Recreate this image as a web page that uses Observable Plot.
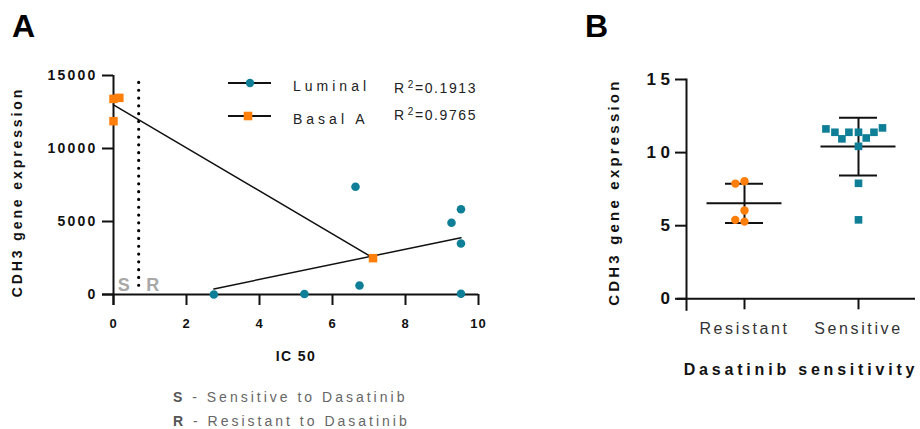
<!DOCTYPE html>
<html>
<head>
<meta charset="utf-8">
<script src="https://cdn.jsdelivr.net/npm/d3@7"></script>
<script src="https://cdn.jsdelivr.net/npm/@observablehq/plot@0.6"></script>
<style>
  html, body { margin: 0; padding: 0; background: #fff; }
  #root { position: relative; width: 920px; height: 429px; overflow: hidden; font-family: "Liberation Sans", Arial, sans-serif; color: #222; }
  .panel { position: absolute; top: 0; }
  #panelA { left: 0; }
  #panelB, #panelB2 { left: 580px; }
  .plabel { position: absolute; font-weight: bold; font-size: 32px; line-height: 32px; color: #000; }
  .leg { position: absolute; font-size: 14px; line-height: 16px; white-space: nowrap; color: #222; }
  .leg sup { font-size: 10px; vertical-align: 0; position: relative; top: -5px; margin-left: 2px; }
  .caption { position: absolute; left: 173px; font-size: 14px; line-height: 12px; letter-spacing: 3px; color: #666; white-space: nowrap; }
  .caption b { color: #555; }
  #panelA g[aria-label="y-axis tick label"] text { font-size: 14px !important; font-weight: bold !important; letter-spacing: 2.2px; }
  #panelA g[aria-label="x-axis tick label"] text { font-size: 13px !important; font-weight: bold !important; letter-spacing: 1px; }
  #panelA g[aria-label="y-axis label"] text { font-size: 14px !important; font-weight: bold !important; letter-spacing: 2.9px; }
  #panelA g[aria-label="y-axis label"] { translate: 0px 7px; }
  #panelA g[aria-label="x-axis label"] text { font-size: 14px !important; font-weight: bold !important; letter-spacing: 1.4px; }
  #panelB g[aria-label="y-axis tick label"] text { font-size: 17px !important; font-weight: bold !important; letter-spacing: 4.5px; }
  #panelB g[aria-label="y-axis label"] text { font-size: 15px !important; font-weight: bold !important; letter-spacing: 3.2px; }
  #panelB g[aria-label="y-axis label"] { translate: 0px 3px; }
  #panelB g[aria-label="x-axis tick label"] text { font-size: 16px !important; font-weight: normal !important; letter-spacing: 2.6px; fill: #333; }
  #panelB g[aria-label="x-axis label"] text { font-size: 16px !important; font-weight: bold !important; letter-spacing: 3.8px; fill: #111; }
</style>
</head>
<body>
<div id="root">
  <div class="plabel" style="left:12px;top:10px;">A</div>
  <div class="plabel" style="left:585px;top:10px;">B</div>
  <div class="panel" id="panelA"></div>
  <div class="panel" id="panelB"></div>
  <div class="panel" id="panelB2"></div>
</div>
<script>
// ---------- Panel A data ----------
const luminalIC50 = [2.75, 5.23, 6.63, 6.74, 9.26, 9.52, 9.52, 9.52];
const luminalCDH3 = [0, 30, 7380, 620, 4910, 5840, 3490, 50];
const basalIC50   = [0, 0.16, 0, 7.11];
const basalCDH3   = [13400, 13470, 11870, 2490];
const seriesNames = ["Luminal", "Basal A"];
const seriesR2    = ["0.1913", "0.9765"];
const cutoffIC50  = [0.69];
const cutoffCDH3  = [600, 15000];
const cutoffSides = ["S", "R"];
const xTicksA = [0, 2, 4, 6, 8, 10];
const yTicksA = [0, 5000, 10000, 15000];
const captionLines = [["S", " - Sensitive to Dasatinib"], ["R", " - Resistant to Dasatinib"]];

// ---------- Panel B data ----------
const groupsB = ["Resistant", "Sensitive"];
const resistantCDH3 = [8.04, 7.88, 6.04, 5.28, 5.40];
const sensitiveCDH3 = [10.43, 7.9, 5.4, 11.39, 11.39, 11.0, 10.94, 11.39, 11.39, 11.69, 11.62];
const yTicksB = [0, 5, 10, 15];

const teal = "#0f7f97";
const orange = "#ff7f0a";
const font = "'Liberation Sans', Arial, sans-serif";

// ---------- Panel A ----------
const lum = luminalIC50.map((x, i) => ({ic50: x, cdh3: luminalCDH3[i]}));
const bas = basalIC50.map((x, i) => ({ic50: x, cdh3: basalCDH3[i]}));

const plotA = Plot.plot({
  width: 500, height: 370,
  marginLeft: 113, marginRight: 22, marginTop: 75, marginBottom: 76,
  x: {domain: [0, 10]},
  y: {domain: [0, 15000]},
  style: {fontFamily: font, background: "transparent", color: "#111", overflow: "visible"},
  marks: [
    Plot.ruleX([0], {stroke: "#111", strokeWidth: 2, insetBottom: -11}),
    Plot.ruleY([0], {stroke: "#111", strokeWidth: 2, insetLeft: -11}),
    Plot.axisX({ticks: xTicksA, tickFormat: d3.format("d"), tickSize: 11, tickPadding: 13, strokeWidth: 2,
      fontSize: 13, fontWeight: "bold", fill: "#111",
      label: "IC 50", labelAnchor: "center", labelOffset: 66, labelArrow: "none"}),
    Plot.axisY({ticks: yTicksA, tickFormat: d3.format("d"), tickSize: 11, tickPadding: 5, strokeWidth: 2,
      fontSize: 14, fontWeight: "bold", fill: "#111",
      label: "CDH3 gene expression", labelAnchor: "center", labelOffset: 101, labelArrow: "none"}),
    Plot.ruleX(cutoffIC50, {y1: cutoffCDH3[0], y2: cutoffCDH3[1], stroke: "#000", strokeWidth: 3.2,
      strokeDasharray: "0 7.8", strokeLinecap: "round"}),
    Plot.text([cutoffSides[0]], {x: () => cutoffIC50[0], y: () => 0, text: d => d, dx: -15, dy: -9,
      fontSize: 18, fontWeight: "bold", fill: "#a8a8a8"}),
    Plot.text([cutoffSides[1]], {x: () => cutoffIC50[0], y: () => 0, text: d => d, dx: 14, dy: -9,
      fontSize: 18, fontWeight: "bold", fill: "#a8a8a8"}),
    Plot.linearRegressionY(lum, {x: "ic50", y: "cdh3", ci: 0, stroke: "#111", strokeWidth: 1.5}),
    Plot.linearRegressionY(bas, {x: "ic50", y: "cdh3", ci: 0, stroke: "#111", strokeWidth: 1.5}),
    Plot.dot(lum, {x: "ic50", y: "cdh3", r: 4.3, fill: teal, symbol: "circle"}),
    Plot.dot(bas, {x: "ic50", y: "cdh3", r: 4.8, fill: orange, symbol: "square"})
  ]
});
document.getElementById("panelA").appendChild(plotA);

// Legend (HTML)
const root = document.getElementById("root");
const legRows = [
  {y: 83, sym: "circle", color: teal, textY: 78, r2Y: 80},
  {y: 116, sym: "square", color: orange, textY: 111, r2Y: 107}
];
legRows.forEach((row, i) => {
  const sw = document.createElementNS("http://www.w3.org/2000/svg", "svg");
  sw.setAttribute("width", 50); sw.setAttribute("height", 16);
  sw.style.position = "absolute"; sw.style.left = "226px"; sw.style.top = (row.y - 8) + "px";
  const ln = document.createElementNS(sw.namespaceURI, "line");
  ln.setAttribute("x1", 2); ln.setAttribute("x2", 45); ln.setAttribute("y1", 8); ln.setAttribute("y2", 8);
  ln.setAttribute("stroke", "#111"); ln.setAttribute("stroke-width", 2);
  sw.appendChild(ln);
  if (row.sym === "circle") {
    const c = document.createElementNS(sw.namespaceURI, "circle");
    c.setAttribute("cx", 24); c.setAttribute("cy", 8); c.setAttribute("r", 4.2); c.setAttribute("fill", row.color);
    sw.appendChild(c);
  } else {
    const s = document.createElementNS(sw.namespaceURI, "rect");
    s.setAttribute("x", 22 - 4.3); s.setAttribute("y", 8 - 4.3); s.setAttribute("width", 8.6); s.setAttribute("height", 8.6); s.setAttribute("fill", row.color);
    sw.appendChild(s);
  }
  root.appendChild(sw);
  const t = document.createElement("div");
  t.className = "leg"; t.style.left = "293px"; t.style.top = row.textY + "px"; t.style.letterSpacing = "4px";
  t.textContent = seriesNames[i];
  root.appendChild(t);
  const r = document.createElement("div");
  r.className = "leg"; r.style.left = "394px"; r.style.top = row.r2Y + "px"; r.style.letterSpacing = "1.6px";
  r.innerHTML = "R<sup>2</sup>=" + seriesR2[i];
  root.appendChild(r);
});

captionLines.forEach((c, i) => {
  const d = document.createElement("div");
  d.className = "caption";
  d.style.top = (391 + i * 24) + "px";
  const b = document.createElement("b"); b.textContent = c[0];
  d.appendChild(b);
  d.appendChild(document.createTextNode(c[1]));
  root.appendChild(d);
});

// ---------- Panel B ----------
const ptsR = resistantCDH3.map(v => ({group: groupsB[0], v}));
const ptsS = sensitiveCDH3.map(v => ({group: groupsB[1], v}));
const stats = [
  {group: groupsB[0], mean: d3.mean(resistantCDH3), sd: d3.deviation(resistantCDH3)},
  {group: groupsB[1], mean: d3.mean(sensitiveCDH3), sd: d3.deviation(sensitiveCDH3)}
];
const dimsB = {width: 340, height: 390, marginLeft: 106, marginRight: 5, marginTop: 79, marginBottom: 91.7};

// Axes, mean and SD bars
const plotB = Plot.plot({
  ...dimsB,
  x: {type: "band", domain: groupsB, padding: 0},
  y: {domain: [0, 15]},
  style: {fontFamily: font, background: "transparent", color: "#111", overflow: "visible"},
  marks: [
    Plot.frame({anchor: "left", stroke: "#111", strokeWidth: 2, insetBottom: -11}),
    Plot.ruleY([0], {stroke: "#111", strokeWidth: 2, insetLeft: -9}),
    Plot.axisY({ticks: yTicksB, tickSize: 11, tickPadding: 1, strokeWidth: 2,
      fontSize: 17, fontWeight: "bold", fill: "#111",
      label: "CDH3 gene expression", labelAnchor: "center", labelOffset: 78, labelArrow: "none"}),
    Plot.axisX({tickSize: 11, tickPadding: 13, strokeWidth: 2, fontSize: 16, fill: "#333",
      label: "Dasatinib sensitivity", labelAnchor: "center", labelOffset: 76}),
    Plot.ruleX(stats, {x: "group", y1: d => d.mean - d.sd, y2: d => d.mean + d.sd, stroke: "#111", strokeWidth: 2}),
    Plot.tickY(stats, {x: "group", y: d => d.mean + d.sd, insetLeft: 38, insetRight: 38, stroke: "#111", strokeWidth: 2}),
    Plot.tickY(stats, {x: "group", y: d => d.mean - d.sd, insetLeft: 38, insetRight: 38, stroke: "#111", strokeWidth: 2}),
    Plot.tickY(stats, {x: "group", y: "mean", insetLeft: 19.5, insetRight: 19.5, stroke: "#111", strokeWidth: 2})
  ]
});
document.getElementById("panelB").appendChild(plotB);

// Scatter points, spread out with a dodge per group
const plotB2 = Plot.plot({
  ...dimsB,
  fx: {domain: groupsB, padding: 0, axis: null},
  y: {domain: [0, 15], axis: null},
  style: {fontFamily: font, background: "transparent", overflow: "visible"},
  marks: [
    Plot.dot(ptsR, Plot.dodgeX("middle", {fx: "group", y: "v", r: 4.2, padding: -1, fill: orange})),
    Plot.dot(ptsS, Plot.dodgeX("middle", {fx: "group", y: "v", r: 4.3, padding: -1.5, symbol: "square", fill: teal}))
  ]
});
document.getElementById("panelB2").appendChild(plotB2);
</script>
</body>
</html>
